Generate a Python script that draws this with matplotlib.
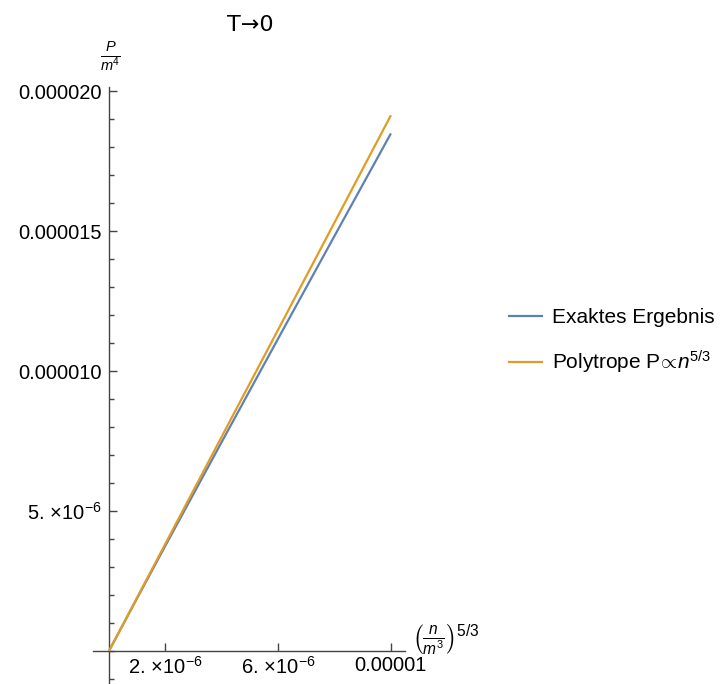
import matplotlib.pyplot as plt
import matplotlib.ticker as mticker
from matplotlib.lines import Line2D

plt.rcParams['font.family'] = ['Liberation Sans', 'DejaVu Sans']
plt.rcParams['mathtext.fontset'] = 'custom'
plt.rcParams['mathtext.rm'] = 'Liberation Sans'
plt.rcParams['mathtext.it'] = 'Liberation Sans:italic'

# data (x = (n/m^3)^(5/3), y = P/m^4)
x_vals = [0, 1e-6, 2e-6, 4e-6, 6e-6, 8e-6, 1e-5]
exact_vals = [0, 1.89e-6, 3.76e-6, 7.47e-6, 11.16e-6, 14.83e-6, 18.49e-6]
poly_vals = [0, 1.914e-6, 3.83e-6, 7.66e-6, 11.48e-6, 15.31e-6, 19.14e-6]

xtick_pos = [2e-6, 6e-6, 1e-5]
xtick_labels = [r'$2.\,{\times}10^{-6}$', r'$6.\,{\times}10^{-6}$', '0.00001']
ytick_pos = [5e-6, 1e-5, 1.5e-5, 2e-5]
ytick_labels = [r'$5.\,{\times}10^{-6}$', '0.000010', '0.000015', '0.000020']

blue = '#5E81B5'
orange = '#E19C24'
axcol = '#444444'

W, H = 721, 684
fig = plt.figure(figsize=(W / 100, H / 100), dpi=100)

# pixel placement of the data area
xmin, xmax = -0.57e-6, 1.05e-5
ymin, ymax = -1.15e-6, 20.15e-6
px_left, px_right = 93, 405
px_top, px_bot = 87, 683
ax = fig.add_axes([px_left / W, 1 - px_bot / H,
                   (px_right - px_left) / W, (px_bot - px_top) / H])
ax.set_xlim(xmin, xmax)
ax.set_ylim(ymin, ymax)

ax.plot(x_vals, exact_vals, color=blue, lw=1.6, solid_capstyle='butt', zorder=3)
ax.plot(x_vals, poly_vals, color=orange, lw=1.6, solid_capstyle='butt', zorder=3)

for s in ['top', 'right']:
    ax.spines[s].set_visible(False)
ax.spines['left'].set_position(('data', 0))
ax.spines['bottom'].set_position(('data', 0))
for s in ['left', 'bottom']:
    ax.spines[s].set_color(axcol)
    ax.spines[s].set_linewidth(1.0)

ax.set_xticks(xtick_pos)
ax.set_xticklabels(xtick_labels)
ax.set_yticks(ytick_pos)
ax.set_yticklabels(ytick_labels)
ax.yaxis.set_minor_locator(mticker.MultipleLocator(1e-6))
ax.tick_params(axis='x', direction='in', length=6, width=1, color=axcol,
               labelsize=14.5, pad=4)
ax.tick_params(axis='y', which='major', direction='in', length=6, width=1,
               color=axcol, labelsize=14.5, pad=5)
ax.tick_params(axis='y', which='minor', direction='in', length=3.5, width=1,
               color=axcol)

# title, DejaVu has the wide arrow
fig.text(250 / W, 1 - 25 / H, 'T→0', fontsize=16, family='DejaVu Sans',
         ha='center', va='center')

fig.text(110 / W, 1 - 57 / H, r'$\frac{P}{m^4}$', fontsize=15,
         ha='center', va='center')
fig.text(412 / W, 1 - 640 / H, r'$\left(\frac{n}{m^3}\right)^{5/3}$',
         fontsize=16, ha='left', va='center')

handles = [Line2D([], [], color=blue, lw=1.6),
           Line2D([], [], color=orange, lw=1.6)]
fig.legend(handles, ['Exaktes Ergebnis',
                     r'Polytrope P$\!\propto\!n^{5/3}$'],
           loc='center left', bbox_to_anchor=(490 / W, 1 - 342 / H),
           frameon=False, fontsize=15, handlelength=1.6, handletextpad=0.5,
           labelspacing=1.05)

fig.savefig('out.png', dpi=100)
